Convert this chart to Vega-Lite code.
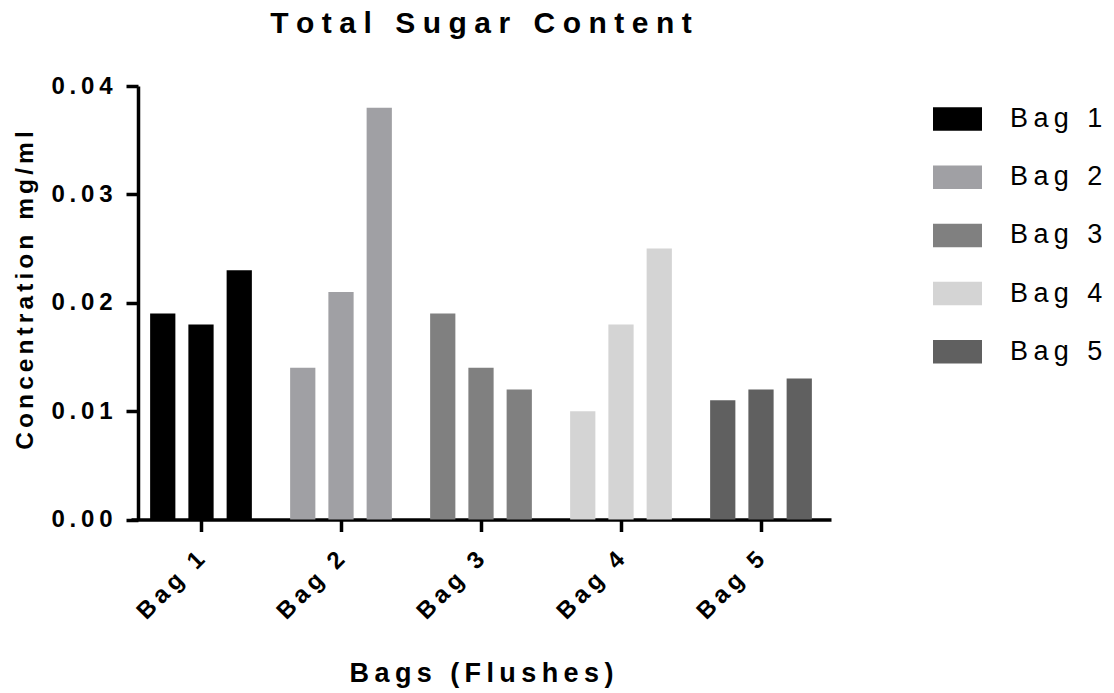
{
  "$schema": "https://vega.github.io/schema/vega-lite/v6.json",
  "width": 700,
  "height": 433.5,
  "autosize": "none",
  "padding": {"left": 131, "top": 86, "right": 283, "bottom": 173.5},
  "background": "white",
  "title": {
    "text": "T\u2005o\u2005t\u2005a\u2005l\u2005 \u2005S\u2005u\u2005g\u2005a\u2005r\u2005 \u2005C\u2005o\u2005n\u2005t\u2005e\u2005n\u2005t",
    "font": "Liberation Sans",
    "fontSize": 30,
    "fontWeight": "bold",
    "color": "black",
    "anchor": "middle",
    "frame": "group",
    "baseline": "alphabetic",
    "offset": 11
  },
  "data": {
    "values": [
      {"bag": "Bag 1", "flush": 1, "concentration": 0.019},
      {"bag": "Bag 1", "flush": 2, "concentration": 0.018},
      {"bag": "Bag 1", "flush": 3, "concentration": 0.023},
      {"bag": "Bag 2", "flush": 1, "concentration": 0.014},
      {"bag": "Bag 2", "flush": 2, "concentration": 0.021},
      {"bag": "Bag 2", "flush": 3, "concentration": 0.038},
      {"bag": "Bag 3", "flush": 1, "concentration": 0.019},
      {"bag": "Bag 3", "flush": 2, "concentration": 0.014},
      {"bag": "Bag 3", "flush": 3, "concentration": 0.012},
      {"bag": "Bag 4", "flush": 1, "concentration": 0.010},
      {"bag": "Bag 4", "flush": 2, "concentration": 0.018},
      {"bag": "Bag 4", "flush": 3, "concentration": 0.025},
      {"bag": "Bag 5", "flush": 1, "concentration": 0.011},
      {"bag": "Bag 5", "flush": 2, "concentration": 0.012},
      {"bag": "Bag 5", "flush": 3, "concentration": 0.013}
    ]
  },
  "mark": {"type": "bar"},
  "encoding": {
    "x": {
      "field": "bag",
      "type": "nominal",
      "scale": {"paddingInner": 0, "paddingOuter": 0},
      "axis": {
        "title": "B\u2009a\u2009g\u2009s\u2009 \u2009(\u2009F\u2009l\u2009u\u2009s\u2009h\u2009e\u2009s\u2009)",
        "titleFont": "Liberation Sans",
        "titleFontSize": 27,
        "titleFontWeight": "bold",
        "titleColor": "black",
        "titleX": 350,
        "titleY": 161.5,
        "titleAlign": "center",
        "titleBaseline": "alphabetic",
        "labelExpr": "join(split(datum.label, ''), '\u2009')",
        "labelAngle": -45,
        "labelAlign": "right",
        "labelBaseline": "middle",
        "labelFont": "Liberation Sans",
        "labelFontSize": 24,
        "labelFontWeight": "bold",
        "labelColor": "black",
        "labelPadding": 24,
        "domainColor": "black",
        "domainWidth": 3.5,
        "tickColor": "black",
        "tickWidth": 3.5,
        "tickSize": 12
      }
    },
    "xOffset": {
      "field": "flush",
      "type": "nominal",
      "scale": {"paddingInner": 0.34, "paddingOuter": 0.5}
    },
    "y": {
      "field": "concentration",
      "type": "quantitative",
      "scale": {"domain": [0, 0.04], "nice": false},
      "axis": {
        "values": [0, 0.01, 0.02, 0.03, 0.04],
        "offset": -7,
        "grid": false,
        "title": "C\u2006o\u2006n\u2006c\u2006e\u2006n\u2006t\u2006r\u2006a\u2006t\u2006i\u2006o\u2006n\u2006 \u2006m\u2006g\u2006/\u2006m\u2006l",
        "titleFont": "Liberation Sans",
        "titleFontSize": 24.5,
        "titleFontWeight": "bold",
        "titleColor": "black",
        "titleAngle": -90,
        "titleAlign": "center",
        "titleBaseline": "alphabetic",
        "titleX": -106,
        "titleY": 204,
        "labelExpr": "join(split(format(datum.value, '.2f'), ''), '\u2009')",
        "labelFont": "Liberation Sans",
        "labelFontSize": 24,
        "labelFontWeight": "bold",
        "labelColor": "black",
        "labelPadding": 14,
        "domainColor": "black",
        "domainWidth": 3.5,
        "tickColor": "black",
        "tickWidth": 3.5,
        "tickSize": 12
      }
    },
    "color": {
      "field": "bag",
      "type": "nominal",
      "scale": {
        "domain": ["Bag 1", "Bag 2", "Bag 3", "Bag 4", "Bag 5"],
        "range": ["#000000", "#a0a0a4", "#808080", "#d4d4d4", "#606060"]
      },
      "legend": {
        "title": null,
        "orient": "none",
        "legendX": 802,
        "legendY": 8.5,
        "padding": 0,
        "symbolType": "M-1,-0.48H1V0.48H-1Z",
        "symbolSize": 2401,
        "symbolStrokeWidth": 0,
        "symbolOpacity": 1,
        "rowPadding": 20.2,
        "labelOffset": 28,
        "labelExpr": "join(split(datum.label, ''), '\u2009')",
        "labelFont": "Liberation Sans",
        "labelFontSize": 27,
        "labelColor": "black"
      }
    }
  },
  "config": {"view": {"stroke": null}}
}
